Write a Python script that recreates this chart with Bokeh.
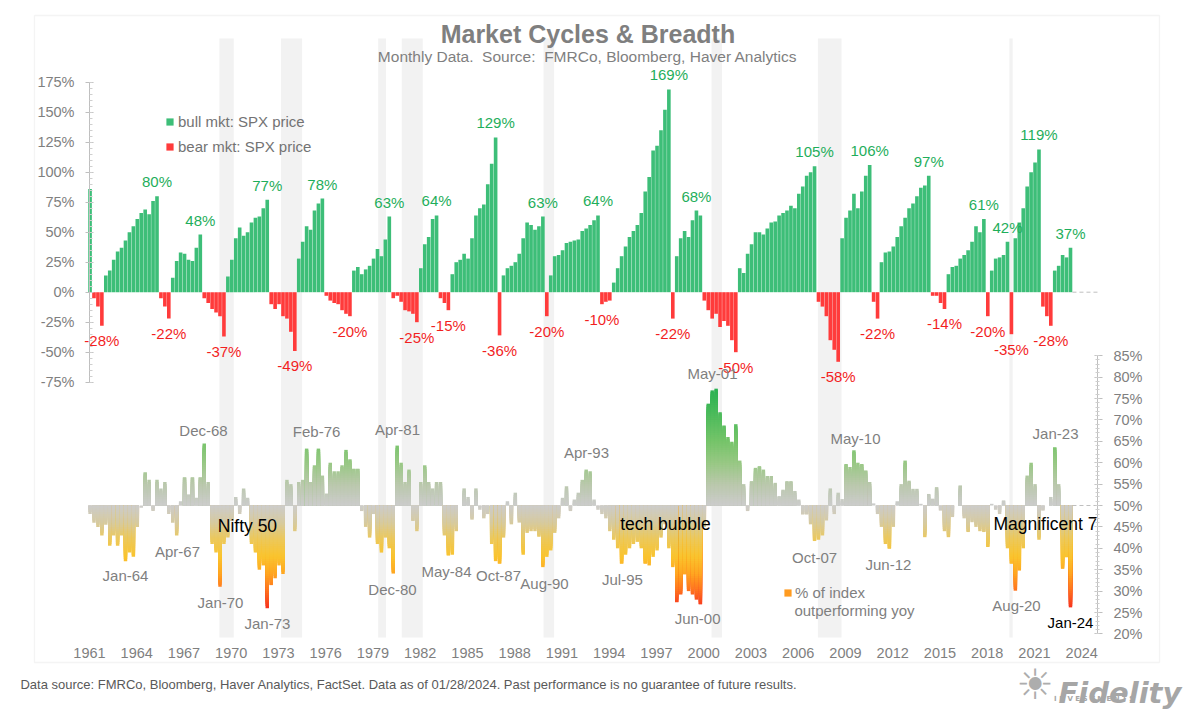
import numpy as np
from bokeh.plotting import figure
from bokeh.models import (Range1d, LinearAxis, FixedTicker, SingleIntervalTicker,
                          PrintfTickFormatter, ColumnDataSource, Label, Legend, LegendItem,
                          BoxAnnotation)
from bokeh.embed import file_html
from bokeh.resources import INLINE
from bokeh.core.properties import value

# ---------------------------------------------------------------- data
# quarterly observations; first quarter ends Oct-1961, last ends Jan-2024
FIRST_Q_END = 1961 + 9 / 12

# S&P 500 cumulative move since start of current cycle (bull > 0, bear < 0), %
spx_cycle_pct = [
    86,                      # 1961
    -5, -12, -28, 14,        # 1962
    18, 27, 34, 37,          # 1963
    43, 50, 55, 61,          # 1964
    66, 69, 65, 76,          # 1965
    80, -5, -12, -22,        # 1966
    12, 26, 33, 32,          # 1967
    27, 26, 37, 48,          # 1968
    -5, -9, -14, -17,        # 1969
    -20, -37, 13, 27,        # 1970
    45, 54, 47, 50,          # 1971
    58, 62, 63, 70,          # 1972
    77, -10, -14, -10,       # 1973
    -20, -22, -33, -49,      # 1974
    28, 42, 55, 52,          # 1975
    68, 74, 78, -3,          # 1976
    -7, -9, -10, -15,        # 1977
    -18, -20, 18, 21,        # 1978
    15, 19, 22, 28,          # 1979
    36, 30, 44, 63,          # 1980
    -5, -3, -8, -15,         # 1981
    -16, -18, -25, 20,       # 1982
    40, 46, 61, 64,          # 1983
    -5, -9, -15, 15,         # 1984
    25, 27, 32, 28,          # 1985
    45, 64, 70, 73,          # 1986
    90, 107, 129, -36,       # 1987
    14, 20, 22, 25,          # 1988
    32, 45, 58, 56,          # 1989
    52, 55, 63, -20,         # 1990
    14, 30, 31, 35,          # 1991
    41, 42, 43, 44,          # 1992
    51, 53, 56, 60,          # 1993
    64, -10, -8, -7,         # 1994
    8, 20, 30, 38,           # 1995
    46, 51, 56, 66,          # 1996
    84, 96, 118, 122,        # 1997
    135, 152, 169, -22,      # 1998
    30, 45, 51, 46,          # 1999
    60, 68, 64, -7,          # 2000
    -15, -22, -18, -29,      # 2001
    -24, -28, -40, -50,      # 2002
    20, 16, 32, 40,          # 2003
    50, 50, 48, 53,          # 2004
    58, 59, 64, 66,          # 2005
    68, 72, 70, 82,          # 2006
    88, 97, 100, 105,        # 2007
    -8, -12, -20, -40,       # 2008
    -48, -58, 45, 62,        # 2009
    68, 82, 70, 84,          # 2010
    97, 106, -8, -22,        # 2011
    25, 33, 34, 38,          # 2012
    46, 55, 62, 70,          # 2013
    74, 80, 87, 89,          # 2014
    97, -3, -3, -9,          # 2015
    -14, 15, 21, 22,         # 2016
    28, 31, 35, 42,          # 2017
    55, 50, 61, -20,         # 2018
    18, 28, 29, 31,          # 2019
    42, -35, 45, 58,         # 2020
    70, 88, 100, 108,        # 2021
    119, -12, -20, -28,      # 2022
    18, 22, 31, 29,          # 2023
    37,                      # 2024
]

# % of index outperforming yoy
breadth_pct = [
    48,                          # 1961
    46, 45, 43, 45.5,            # 1962
    40.6, 43, 40.6, 43,          # 1963
    37, 39, 38, 45,              # 1964
    49.5, 57.8, 56, 48.7,        # 1965
    56, 54, 55.5, 48,            # 1966
    46, 43, 51, 56.6,            # 1967
    52.6, 56.6, 51.8, 56.6,      # 1968
    64.5, 55.5, 41, 39,          # 1969
    31, 41, 42.5, 46.4,          # 1970
    52, 48, 54, 51.8,            # 1971
    41, 39, 35, 36,              # 1972
    26, 31.4, 33, 36,            # 1973
    34, 56, 55, 44,              # 1974
    55.5, 56, 63.3, 55.5,        # 1975
    59.4, 63.3, 57, 52.8,        # 1976
    60, 58, 58, 59.4,            # 1977
    63, 60.8, 58.6, 58.6,        # 1978
    48.7, 45, 42.5, 48,          # 1979
    41, 39, 42.5, 40,            # 1980
    34.1, 64, 60, 55.5,          # 1981
    58.4, 46.4, 44, 55.5,        # 1982
    59.4, 55.5, 54, 55.5,        # 1983
    55.5, 43, 38.3, 38.5,        # 1984
    44, 50, 54, 52,              # 1985
    46.7, 54, 49, 47,            # 1986
    48, 41, 37, 36.4,            # 1987
    42.5, 51, 45.6, 53,          # 1988
    46, 38.5, 43.6, 44,          # 1989
    44, 42.7, 35.6, 38,          # 1990
    39.5, 43.6, 47, 51.8,        # 1991
    54.5, 48.7, 51.4, 53,        # 1992
    56, 58.4, 58, 51.4,          # 1993
    49, 48, 47, 44,              # 1994
    42, 40, 36.4, 38.5,          # 1995
    40, 41, 41.5, 40,            # 1996
    36.4, 36, 38, 39.5,          # 1997
    42.5, 45.6, 40, 35.6,        # 1998
    27.4, 29.2, 33.9, 30,        # 1999
    29.2, 28, 26.9, 45,          # 2000
    73.8, 76.9, 77.3, 71.8,      # 2001
    68.7, 66, 64.9, 69,          # 2002
    60.5, 55, 48.7, 55.7,        # 2003
    58.8, 59.2, 58.4, 56.9,      # 2004
    56.9, 55.3, 52.2, 53.7,      # 2005
    55.7, 55.7, 53.4, 51.4,      # 2006
    47.9, 47.9, 45.6, 41.7,      # 2007
    42, 43, 46.5, 54,            # 2008
    48, 53, 51.5, 59.7,          # 2009
    59, 62.9, 60, 59.7,          # 2010
    58.2, 55.5, 50.5, 48,        # 2011
    45, 41, 39.9, 45,            # 2012
    51, 55, 60.5, 55.8,          # 2013
    53.9, 53.9, 50.4, 42.6,      # 2014
    52.7, 51.6, 54.3, 48.8,      # 2015
    44, 42.6, 47.3, 50,          # 2016
    54.7, 47, 43.8, 46.1,        # 2017
    45, 44, 43.8, 40.3,          # 2018
    50.4, 49, 48, 51.2,          # 2019
    40, 36.4, 30.1, 34.8,        # 2020
    40, 57, 60, 55,              # 2021
    42, 48.8, 50, 52,            # 2022
    63.6, 55, 35.2, 37.9,        # 2023
    26.2,                        # 2024
]

# US recessions (decimal years)
recession_start = [1969.92, 1973.83, 1980.00, 1981.50, 1990.50, 2001.17, 2007.92, 2020.08]
recession_end = [1970.83, 1975.17, 1980.50, 1982.83, 1991.17, 2001.83, 2009.42, 2020.29]

year_ticks = list(range(1961, 2025, 3))

# breadth annotations (date, % level)
note_text = ["Jan-64", "Apr-67", "Dec-68", "Jan-70", "Jan-73", "Feb-76", "Dec-80", "Apr-81",
             "May-84", "Oct-87", "Aug-90", "Apr-93", "Jul-95", "Jun-00", "May-01", "Oct-07",
             "May-10", "Jun-12", "Aug-20", "Jan-23"]
note_x = [1963.96, 1967.26, 1968.91, 1969.99, 1972.97, 1976.09, 1980.91, 1981.23,
          1984.34, 1987.64, 1990.56, 1993.23, 1995.51, 2000.28, 2001.23, 2007.71,
          2010.31, 2012.40, 2020.53, 2023.01]
note_y = [33.6, 39.3, 67.5, 27.3, 22.4, 67.3, 30.4, 67.8,
          34.6, 33.6, 31.8, 62.4, 32.7, 23.6, 80.8, 37.9,
          65.7, 36.2, 26.6, 66.8]
theme_text = ["Nifty 50", "tech bubble", "Magnificent 7"]
theme_x = [1971.70, 1998.24, 2022.37]
theme_y = [45.1, 45.6, 45.6]

# ---------------------------------------------------------------- layout / style
FIG_W, FIG_H = 1196, 712
X_LO, X_HI = 1956.022, 2031.959
Y_LO, Y_HI = -350.25, 243.08          # left axis (% move)
B_LO, B_HI = 1.64, 167.99             # right axis (breadth %)
AXIS_L_X, AXIS_R_X = 1961.673, 2025.673
AXIS_B_Y = -288.6
LBL_SHIFT = 0.673
BAND_TOP, BAND_BOT = 211.4, -287.8
BOX = dict(left=1958.181, right=2029.610, top=230.58, bottom=-308.58)

GREEN, RED = "#3dbe78", "#ff3b3b"
GREEN_TXT, RED_TXT = "#1fae5b", "#f21f1f"
GRAY_TXT = "#7f7f7f"
FONT = "Liberation Sans"

p = figure(width=FIG_W, height=FIG_H,
           x_range=Range1d(X_LO, X_HI), y_range=Range1d(Y_LO, Y_HI),
           x_axis_location=None, y_axis_location=None,
           toolbar_location=None, output_backend="svg",
           min_border_left=0, min_border_right=0, min_border_top=0, min_border_bottom=0)
p.extra_y_ranges = {"breadth": Range1d(B_LO, B_HI)}
p.extra_x_ranges = {"lbl": Range1d(X_LO - LBL_SHIFT, X_HI - LBL_SHIFT)}
p.xgrid.grid_line_color = None
p.ygrid.grid_line_color = None
p.outline_line_color = None
p.background_fill_color = "white"
p.border_fill_color = "white"

# chart box
p.add_layout(BoxAnnotation(fill_color=None, fill_alpha=0, line_color="#d9d9d9",
                           line_width=1.3, level="underlay", **BOX))

# recession bands
p.quad(left=recession_start, right=recession_end, bottom=BAND_BOT, top=BAND_TOP,
       fill_color="#f2f2f2", line_color=None)

# time axis
n = len(spx_cycle_pct)
t = FIRST_Q_END + 0.25 * np.arange(n) - 1 / 24

spx = np.array(spx_cycle_pct, dtype=float)
bull = spx > 0
src_bull = ColumnDataSource(dict(x=t[bull], top=spx[bull]))
src_bear = ColumnDataSource(dict(x=t[~bull], top=spx[~bull]))
r_bull = p.vbar(x="x", top="top", bottom=0, width=0.23, source=src_bull,
                fill_color=GREEN, line_color=None)
r_bear = p.vbar(x="x", top="top", bottom=0, width=0.23, source=src_bear,
                fill_color=RED, line_color=None)

# cycle extreme labels (skip the first, partial cycle)
lab_x, lab_y, lab_t, lab_c = [], [], [], []
sign = np.sign(spx)
starts = [0] + [i for i in range(1, n) if sign[i] != sign[i - 1]]
ends = starts[1:] + [n]
for s, e in list(zip(starts, ends))[1:]:
    seg = spx[s:e]
    k = s + int(np.argmax(np.abs(seg)))
    v = spx[k]
    lab_x.append(t[k])
    lab_y.append(v + 12 if v > 0 else v - 12.5)
    lab_t.append(f"{int(round(v))}%")
    lab_c.append(GREEN_TXT if v > 0 else RED_TXT)
p.text(x=lab_x, y=lab_y, text=lab_t, text_color=lab_c, text_align="center",
       text_baseline="middle", text_font=value(FONT), text_font_size="15px")

# breadth bars with level-dependent gradient
below_lv = [26, 30, 34, 38, 42, 46, 50]
below_rgb = [(246, 48, 30), (255, 112, 30), (255, 165, 32), (250, 196, 45),
             (236, 200, 90), (214, 202, 160), (204, 204, 204)]
above_lv = [50, 55, 60, 65, 72, 78]
above_rgb = [(204, 204, 204), (186, 200, 172), (152, 200, 132),
             (118, 196, 106), (72, 186, 90), (36, 176, 80)]


def level_color(lv):
    if lv < 50:
        lvls, rgbs = below_lv, below_rgb
    else:
        lvls, rgbs = above_lv, above_rgb
    c = [int(round(np.interp(lv, lvls, [r[i] for r in rgbs]))) for i in range(3)]
    return "#%02x%02x%02x" % tuple(c)


STEP = 0.5
bx, btop, bcol = [], [], []
for xi, v in zip(t, breadth_pct):
    d = v - 50.0
    if d == 0:
        continue
    sg = 1.0 if d > 0 else -1.0
    ns = int(np.ceil(abs(d) / STEP))
    for j in range(ns, 0, -1):
        bx.append(xi)
        btop.append(50 + sg * min(j * STEP, abs(d)))
        bcol.append(level_color(50 + sg * (j - 0.5) * STEP))
src_b = ColumnDataSource(dict(x=bx, top=btop, color=bcol))
r_breadth = p.vbar(x="x", top="top", bottom=50, width=0.22, source=src_b,
                   fill_color="color", line_color=None, y_range_name="breadth")

# dashed baseline extensions
last_end = float(t[-1]) + 0.125
p.segment(x0=[last_end], x1=[AXIS_R_X], y0=[0], y1=[0], line_color="#bfbfbf",
          line_dash="4 3", line_width=1)
p.segment(x0=[last_end], x1=[AXIS_R_X], y0=[50], y1=[50], line_color="#bfbfbf",
          line_dash="4 3", line_width=1, y_range_name="breadth")

# breadth annotations
p.text(x=note_x, y=note_y, text=note_text, y_range_name="breadth", text_color=GRAY_TXT,
       text_align="center", text_baseline="middle", text_font=value(FONT),
       text_font_size="15px")
p.text(x=theme_x, y=theme_y, text=theme_text, y_range_name="breadth", text_color="#000000",
       text_align="center", text_baseline="middle", text_font=value(FONT),
       text_font_size="17.5px")
p.text(x=[2023.96], y=[22.7], text=["Jan-24"], y_range_name="breadth", text_color="#000000",
       text_align="center", text_baseline="middle", text_font=value(FONT),
       text_font_size="15px")

# axes
ax_l = LinearAxis(ticker=SingleIntervalTicker(interval=25, num_minor_ticks=5),
                  formatter=PrintfTickFormatter(format="%d%%"),
                  bounds=(-75, 175), fixed_location=AXIS_L_X)
ax_r = LinearAxis(y_range_name="breadth",
                  ticker=SingleIntervalTicker(interval=5, num_minor_ticks=5),
                  formatter=PrintfTickFormatter(format="%d%%"),
                  bounds=(20, 85), fixed_location=AXIS_R_X)
for ax in (ax_l, ax_r):
    ax.axis_line_color = "#bfbfbf"
    ax.major_tick_line_color = "#bfbfbf"
    ax.minor_tick_line_color = "#cfcfcf"
    ax.major_label_text_color = GRAY_TXT
    ax.major_label_text_font = FONT
    ax.major_label_text_font_size = "14.5px"
    ax.major_label_standoff = 11
ax_l.major_tick_in, ax_l.major_tick_out = 4, 4
ax_l.minor_tick_in, ax_l.minor_tick_out = 3, 0
ax_r.major_tick_in, ax_r.major_tick_out = 3, 5
ax_r.minor_tick_in, ax_r.minor_tick_out = 2, 2
p.add_layout(ax_l, "left")
p.add_layout(ax_r, "right")

ax_b = LinearAxis(x_range_name="lbl", ticker=FixedTicker(ticks=year_ticks),
                  formatter=PrintfTickFormatter(format="%d"), fixed_location=AXIS_B_Y)
ax_b.axis_line_color = None
ax_b.major_tick_line_color = None
ax_b.minor_tick_line_color = None
ax_b.major_label_text_color = GRAY_TXT
ax_b.major_label_text_font = FONT
ax_b.major_label_text_font_size = "14.5px"
ax_b.major_label_standoff = 3
p.add_layout(ax_b, "below")

# legends (location = bottom-left corner, px from frame bottom-left)
leg = Legend(items=[LegendItem(label="bull mkt: SPX price", renderers=[r_bull]),
                    LegendItem(label="bear mkt: SPX price", renderers=[r_bear])],
             location=(165, FIG_H - 156), orientation="vertical",
             glyph_width=9, glyph_height=9, label_standoff=4, spacing=5,
             padding=0, margin=0, border_line_color=None, background_fill_alpha=0,
             label_text_font_size="15px", label_text_color="#737373",
             label_text_font=FONT, label_height=20)
p.add_layout(leg)

icon_idx = int(np.argmin(np.abs(np.array(btop) - 33.0)))
leg2 = Legend(items=[LegendItem(label="% of index", renderers=[r_breadth], index=icon_idx)],
              location=(783, FIG_H - 602), glyph_width=9, glyph_height=9, label_standoff=3,
              padding=0, margin=0, border_line_color=None, background_fill_alpha=0,
              label_text_font_size="15px", label_text_color=GRAY_TXT,
              label_text_font=FONT, label_height=20)
p.add_layout(leg2)
p.add_layout(Label(x=2006.43, y=25.5, y_range_name="breadth", text="outperforming yoy",
                   text_align="left", text_baseline="middle", text_font=FONT,
                   text_font_size="15px", text_color=GRAY_TXT))

# titles
p.add_layout(Label(x=1993.32, y=215.2, text="Market Cycles & Breadth", text_align="center",
                   text_baseline="middle", text_font=FONT, text_font_size="25px",
                   text_font_style="bold", text_color="#7f7f7f"))
p.add_layout(Label(x=1993.3, y=196.4,
                   text="Monthly Data.\u00a0 Source:\u00a0 FMRCo, Bloomberg, Haver Analytics",
                   text_align="center", text_baseline="middle", text_font=FONT,
                   text_font_size="15.5px", text_color="#7f7f7f"))

# footer and logo
p.add_layout(Label(x=1957.29, y=-326.9,
                   text="Data source: FMRCo, Bloomberg, Haver Analytics, FactSet. Data as of "
                        "01/28/2024. Past performance is no guarantee of future results.",
                   text_align="left", text_baseline="middle", text_font=FONT,
                   text_font_size="13px", text_color="#595959"))
p.add_layout(Label(x=2021.70, y=-327.0, text="\u2600", text_align="center",
                   text_baseline="middle", text_font="DejaVu Sans", text_font_size="42px",
                   text_color="#adadad"))
p.add_layout(Label(x=2023.20, y=-333.6, text="Fidelity", text_align="left",
                   text_baseline="alphabetic", text_font="DejaVu Sans", text_font_size="29px",
                   text_font_style="bold italic", text_color="#a6a6a6"))
p.add_layout(Label(x=2026.24, y=-339.0, text="I  N  V  E  S  T  M  E  N  T  S",
                   text_align="center", text_baseline="middle", text_font="DejaVu Sans",
                   text_font_size="7px", text_font_style="bold", text_color="#a6a6a6"))

open("out.html", "w").write(file_html(p, INLINE))
